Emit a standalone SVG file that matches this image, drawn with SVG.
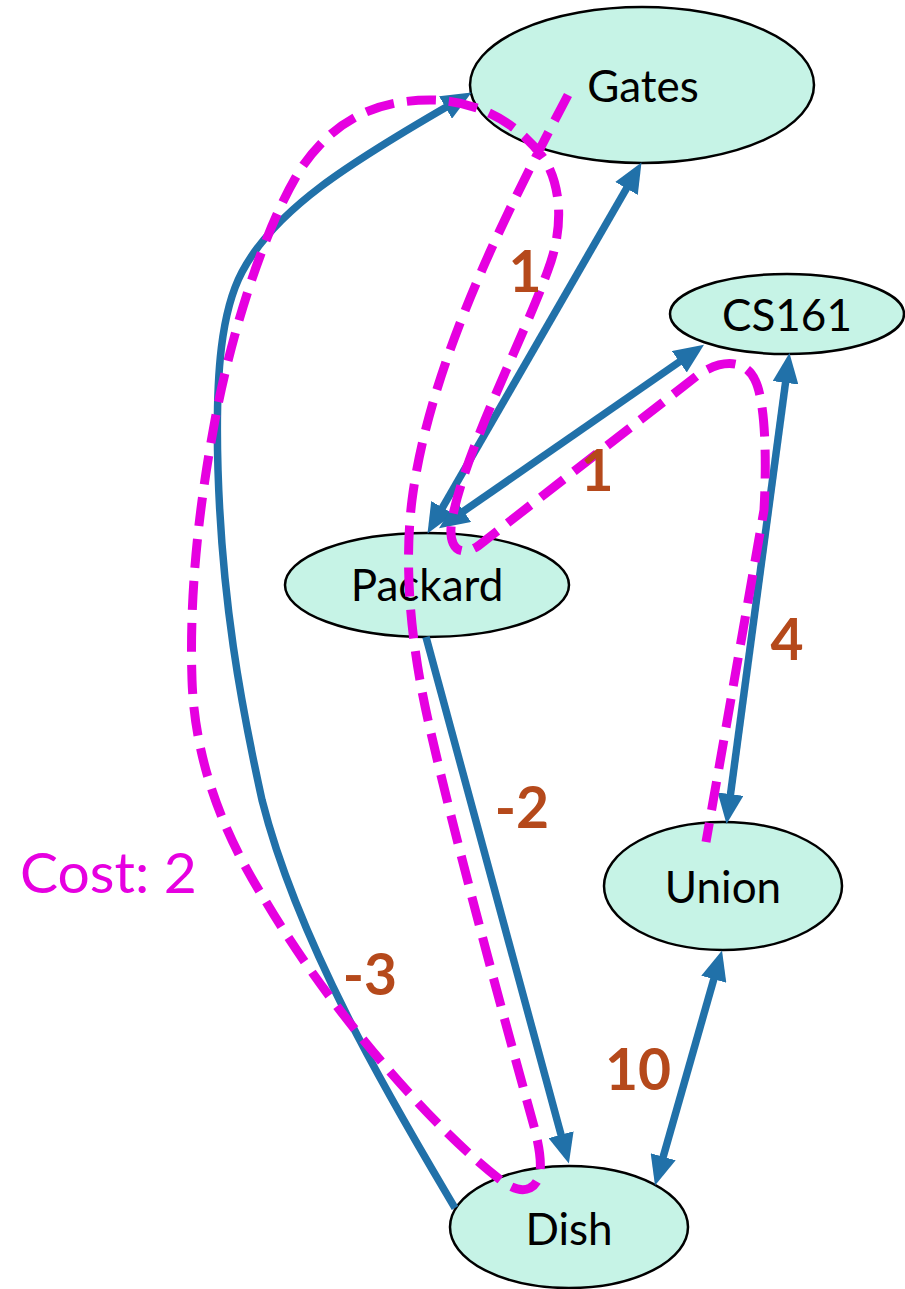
<svg xmlns="http://www.w3.org/2000/svg" width="905" height="1289" viewBox="0 0 905 1289">
<style>
.node ellipse{fill:#C6F3E6;stroke:#000;stroke-width:2.5}
.node text{font-family:Lato,"Open Sans",sans-serif;font-size:44px;fill:#000;text-anchor:middle}
.edge{fill:none;stroke:#2171A9;stroke-width:7.5}
.path{fill:none;stroke:#E600E0;stroke-width:9;stroke-dasharray:29 13}
.lbl{font-family:Lato,"Open Sans",sans-serif;font-weight:bold;font-size:57px;fill:#B5491B;text-anchor:middle}
.cost{font-family:Lato,"Open Sans",sans-serif;font-size:57px;fill:#E600E0}
</style>
<defs>
<marker id="arr" markerUnits="userSpaceOnUse" markerWidth="30" markerHeight="26" viewBox="0 0 30 26" refX="19" refY="13" orient="auto-start-reverse">
<path d="M0,0 L30,13 L0,26 z" fill="#2171A9"/>
</marker>
</defs>
<g id="node-gates" class="node"><ellipse cx="642" cy="85" rx="172" ry="78"/><text x="643" y="102">Gates</text></g>
<g id="node-cs161" class="node"><ellipse cx="787" cy="314" rx="117" ry="40"/><text x="787" y="331">CS161</text></g>
<g id="node-packard" class="node"><ellipse cx="427" cy="585" rx="142" ry="52"/><text x="427" y="601">Packard</text></g>
<g id="node-union" class="node"><ellipse cx="723" cy="886" rx="119" ry="64"/><text x="723" y="903">Union</text></g>
<g id="node-dish" class="node"><ellipse cx="569" cy="1227" rx="119" ry="61"/><text x="569" y="1245">Dish</text></g>
<g id="connectors">
<line class="edge" x1="433" y1="524" x2="636" y2="172" marker-start="url(#arr)" marker-end="url(#arr)"/>
<line class="edge" x1="448" y1="522" x2="695" y2="351" marker-start="url(#arr)" marker-end="url(#arr)"/>
<line class="edge" x1="728" y1="813" x2="788" y2="364" marker-start="url(#arr)" marker-end="url(#arr)"/>
<line class="edge" x1="426" y1="637" x2="566" y2="1153" marker-end="url(#arr)"/>
<line class="edge" x1="658" y1="1175" x2="719" y2="961" marker-start="url(#arr)" marker-end="url(#arr)"/>
<path class="edge" d="M455,1208 C400,1115 300,950 262,800 C240,700 222,600 218,470 C215,370 222,310 242,272 C275,210 345,165 462,98" marker-end="url(#arr)"/>
<path class="path" d="M568,95 C510,205 430,360 412,500 C404,565 410,640 428,720 C455,840 510,1040 535,1130 C541,1155 545,1180 530,1188 C520,1193 508,1186 498,1178 C430,1125 330,1010 265,900 C230,845 195,770 192,680 C189,590 200,500 215,420 C230,340 262,232 300,170 C330,125 370,100 430,100 C480,100 520,125 545,160 C560,185 565,225 548,270 C525,335 465,450 452,520 C447,548 460,558 478,546 L698,375 C720,360 745,358 755,380 C765,400 767,455 764,510 L706,842"/>
<text class="lbl" x="525" y="292">1</text>
<text class="lbl" x="597" y="491">1</text>
<text class="lbl" x="787" y="660">4</text>
<text class="lbl" x="522" y="828">-2</text>
<text class="lbl" x="370" y="995">-3</text>
<text class="lbl" x="638" y="1090">10</text>
<text class="cost" x="20" y="893">Cost: 2</text>
</g>
</svg>
